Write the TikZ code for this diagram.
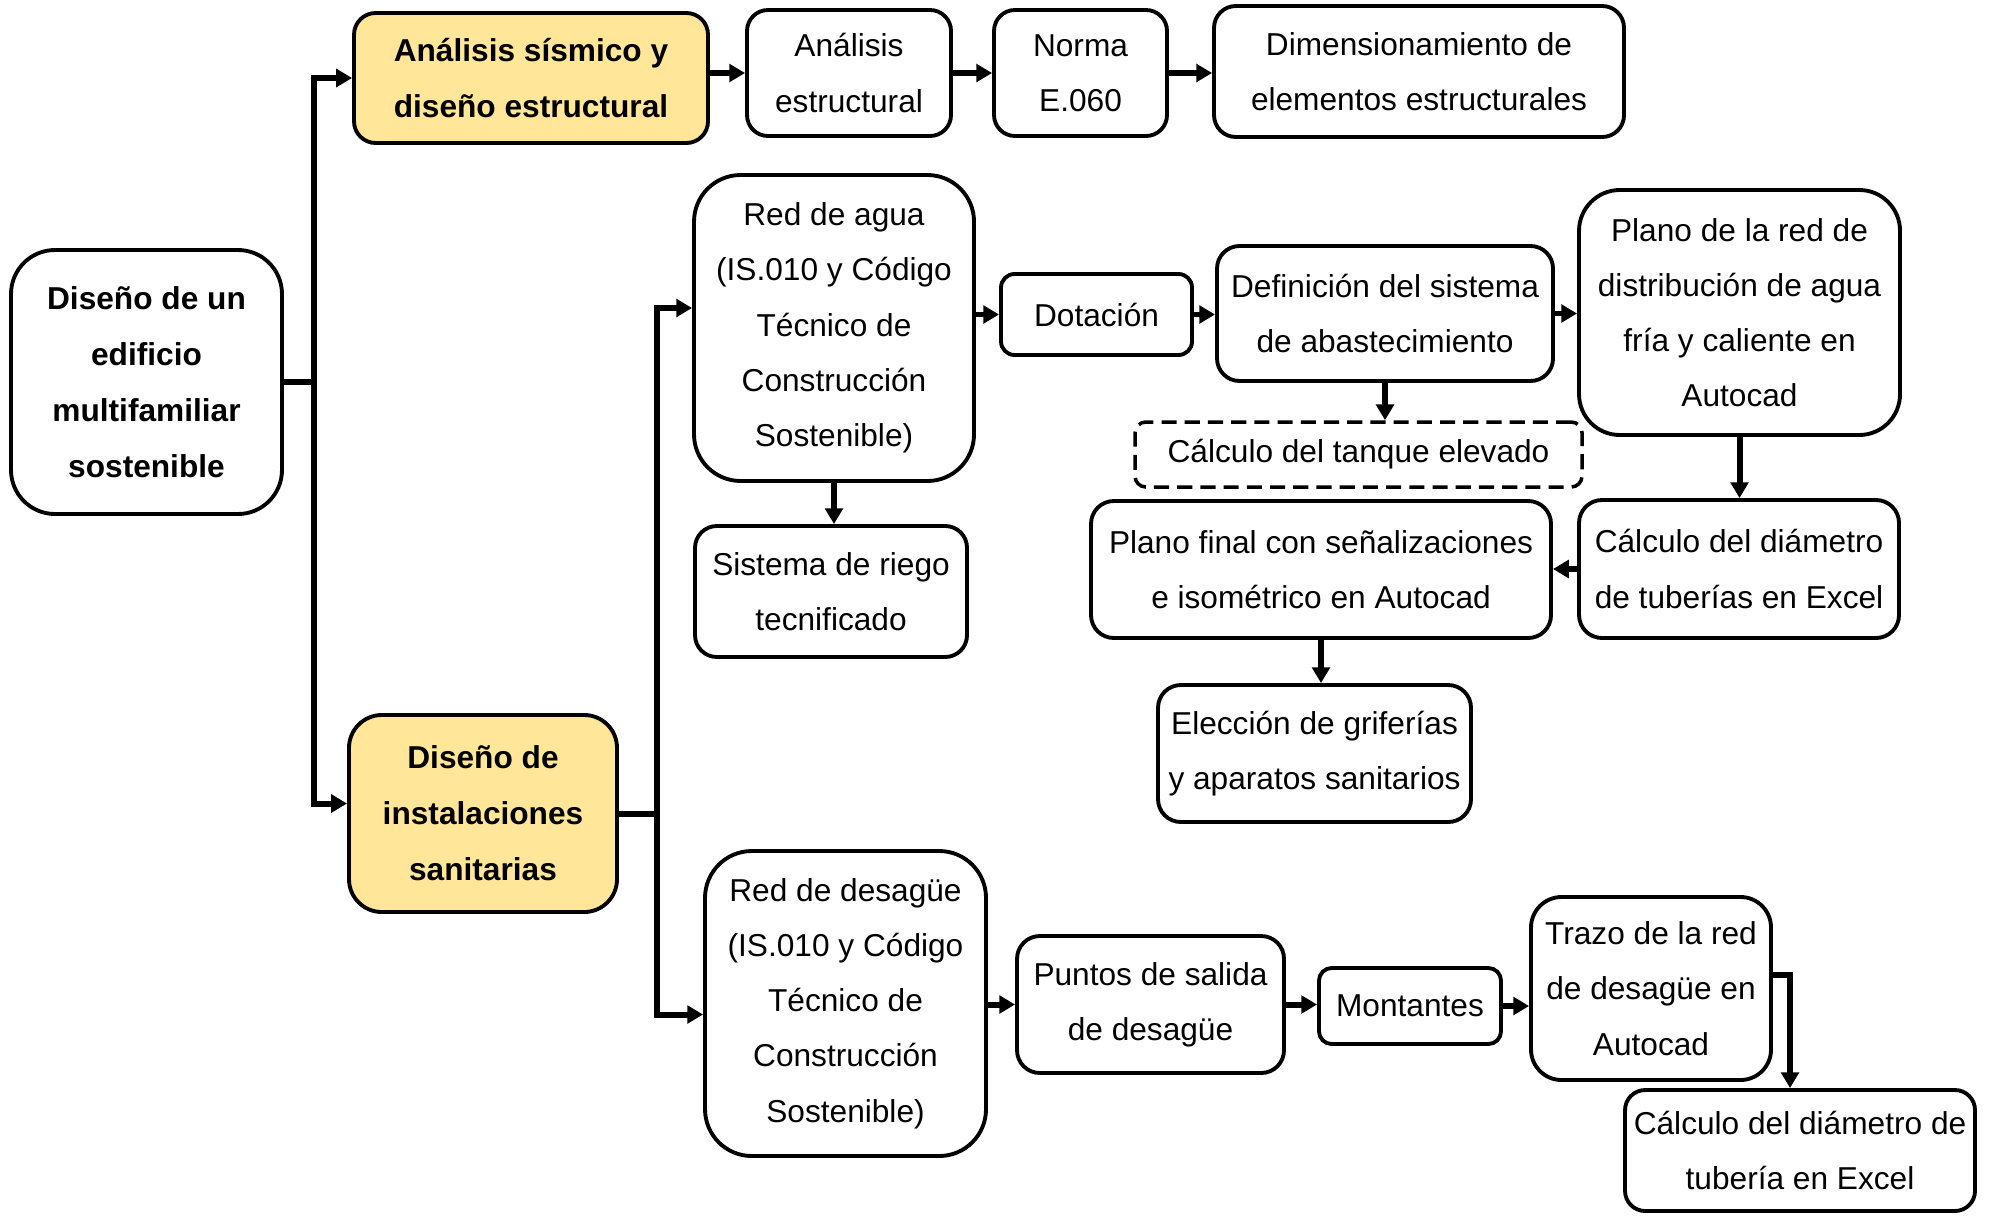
\documentclass[tikz,border=0pt]{standalone}
\usepackage{fontspec}
\setmainfont{Liberation Sans}
\usetikzlibrary{arrows.meta,calc}
\definecolor{keyfill}{HTML}{FFE699}

% \boxat{name}{x1}{y1}{x2}{y2}{style}{text}: rounded box spanning the given corners
\newcommand\boxat[7]{%
  \pgfmathsetmacro\bw{(#4)-(#2)}%
  \pgfmathsetmacro\bh{(#5)-(#3)}%
  \pgfmathsetmacro\br{min(\bw,\bh)/6}%
  \node[#6, minimum width=\bw*0.01cm, minimum height=\bh*0.01cm,
        rounded corners=\br*0.01cm] (#1) at ({(#2+#4)/2},{(#3+#5)/2}) {#7};}

\begin{document}
\begin{tikzpicture}[x=0.01cm,y=-0.01cm,
  every node/.style={inner sep=0pt, align=center, font=\fontsize{9}{15.7}\selectfont},
  stepnode/.style={draw, line width=1.1pt, fill=white},
  boldnode/.style={stepnode, font=\fontsize{9}{15.9}\selectfont\bfseries},
  keynode/.style={boldnode, fill=keyfill},
  dashnode/.style={draw, line width=1pt, dash pattern=on 4.3pt off 2.3pt},
  link/.style={line width=1.7pt},
  arr/.style={link, -{Triangle[length=4.5pt,width=5pt]}},
  ]
\useasboundingbox (0,0) rectangle (1989,1215);

% root and the two main branches
\boxat{root}{11}{250}{282}{514}{boldnode}{Diseño de un\\edificio\\multifamiliar\\sostenible}
\boxat{sis}{354}{13}{708}{143}{keynode}{Análisis sísmico y\\diseño estructural}
\boxat{san}{349}{715}{617}{912}{keynode}{Diseño de\\instalaciones\\sanitarias}

% structural chain
\boxat{aes}{747}{10}{951}{136}{stepnode}{Análisis\\estructural}
\boxat{norma}{994}{10}{1167}{136}{stepnode}{Norma\\E.060}
\boxat{dim}{1214}{6}{1624}{137}{stepnode}{Dimensionamiento de\\elementos estructurales}

% water supply network
\boxat{agua}{694}{175}{974}{481}{stepnode}{Red de agua\\(IS.010 y Código\\Técnico de\\Construcción\\Sostenible)}
\boxat{riego}{695}{526}{967}{657}{stepnode}{Sistema de riego\\tecnificado}
\boxat{dot}{1001}{274}{1192}{355}{stepnode}{Dotación}
\boxat{abast}{1217}{246}{1553}{381}{stepnode}{Definición del sistema\\de abastecimiento}
\boxat{plano}{1579}{190}{1900}{435}{stepnode}{Plano de la red de\\distribución de agua\\fría y caliente en\\Autocad}
\boxat{tanque}{1135}{422}{1582}{487}{dashnode}{Cálculo del tanque elevado}
\boxat{final}{1091}{501}{1551}{638}{stepnode}{Plano final con señalizaciones\\e isométrico en Autocad}
\boxat{diam}{1579}{500}{1899}{638}{stepnode}{Cálculo del diámetro\\de tuberías en Excel}
\boxat{grif}{1158}{685}{1471}{822}{stepnode}{Elección de griferías\\y aparatos sanitarios}

% drainage network
\boxat{desag}{705}{851}{986}{1156}{stepnode}{Red de desagüe\\(IS.010 y Código\\Técnico de\\Construcción\\Sostenible)}
\boxat{puntos}{1017}{936}{1284}{1073}{stepnode}{Puntos de salida\\de desagüe}
\boxat{mont}{1319}{968}{1501}{1044}{stepnode}{Montantes}
\boxat{trazo}{1531}{897}{1771}{1080}{stepnode}{Trazo de la red\\de desagüe en\\Autocad}
\boxat{tub}{1625}{1090}{1975}{1211}{stepnode}{Cálculo del diámetro de\\tubería en Excel}

% trunks
\path (root.east) ++(30,0) coordinate (t1);
\draw[link] (root.east) -- (t1);
\draw[arr] (t1) |- (sis.west);
\draw[arr] (t1) |- ($(san.west)+(0,-10)$);

\path (san.east) ++(38,0) coordinate (t2);
\draw[link] (san.east) -- (t2);
\draw[arr] (t2) |- ($(agua.west)+(0,-20)$);
\draw[arr] (t2) |- ($(desag.west)+(0,11)$);

% structural arrows
\draw[arr] (sis.east |- aes.west) -- (aes.west);
\draw[arr] (aes.east) -- (norma.west);
\draw[arr] (norma.east) -- (norma.east -| dim.west);

% water arrows
\draw[arr] (agua.east |- dot.west) -- (dot.west);
\draw[arr] (dot.east) -- (dot.east -| abast.west);
\draw[arr] (abast.east) -- (abast.east -| plano.west);
\draw[arr] (agua.south) -- (agua.south |- riego.north);
\draw[arr] (abast.south) -- (abast.south |- tanque.north);
\draw[arr] (plano.south) -- (plano.south |- diam.north);
\draw[arr] (diam.west) -- (diam.west -| final.east);
\draw[arr] (final.south) -- (final.south |- grif.north);

% drainage arrows
\draw[arr] (desag.east |- puntos.west) -- (puntos.west);
\draw[arr] (puntos.east) -- (puntos.east -| mont.west);
\draw[arr] (mont.east) -- (mont.east -| trazo.west);
\draw[arr] ($(trazo.east)+(0,-14)$) -| ($(tub.north)+(-10,0)$);
\end{tikzpicture}
\end{document}
